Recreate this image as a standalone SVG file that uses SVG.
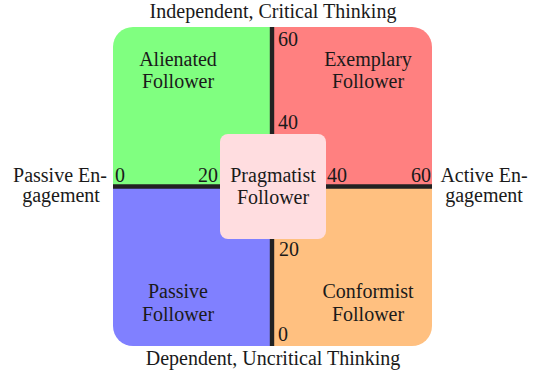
<svg xmlns="http://www.w3.org/2000/svg" width="536" height="376" viewBox="0 0 536 376">
  <style>
    text { font-family: "Liberation Serif", "Times New Roman", serif; font-size: 20px; fill: #1a1a1a; }
    .c { text-anchor: middle; }
    .e { text-anchor: end; }
    .axis { stroke: #222222; stroke-width: 4.4; fill: none; }
  </style>
  <defs>
    <clipPath id="board">
      <rect x="113" y="27" width="319" height="319" rx="20" ry="20"/>
    </clipPath>
  </defs>
  <rect width="536" height="376" fill="#ffffff"/>

  <g clip-path="url(#board)">
    <g id="alienated">
      <rect x="113" y="27" width="159" height="160" fill="#80ff80"/>
    </g>
    <g id="exemplary">
      <rect x="272" y="27" width="160" height="160" fill="#ff8080"/>
    </g>
    <g id="passive">
      <rect x="113" y="186.5" width="159" height="160" fill="#8080ff"/>
    </g>
    <g id="conformist">
      <rect x="272" y="186.5" width="160" height="160" fill="#ffc080"/>
    </g>
  </g>

  <g id="connectors">
    <line class="axis" x1="272" y1="27" x2="272" y2="346"/>
    <line class="axis" x1="113" y1="186.5" x2="432" y2="186.5"/>
  </g>

  <g id="ticks">
    <text x="278" y="46">60</text>
    <text x="278" y="129">40</text>
    <text x="115" y="182">0</text>
    <text class="e" x="218" y="182">20</text>
    <text x="327" y="182">40</text>
    <text class="e" x="431" y="182">60</text>
    <text x="279" y="256">20</text>
    <text x="278" y="341">0</text>
  </g>

  <g id="alienated-label">
    <text class="c" x="178" y="66">Alienated</text>
    <text class="c" x="178" y="88">Follower</text>
  </g>
  <g id="exemplary-label">
    <text class="c" x="368" y="66">Exemplary</text>
    <text class="c" x="368" y="88">Follower</text>
  </g>
  <g id="passive-label">
    <text class="c" x="178" y="298">Passive</text>
    <text class="c" x="178" y="321">Follower</text>
  </g>
  <g id="conformist-label">
    <text class="c" x="368" y="298">Conformist</text>
    <text class="c" x="368" y="321">Follower</text>
  </g>

  <g id="pragmatist">
    <rect x="220" y="134" width="106" height="105" rx="8" ry="8" fill="#ffdde0"/>
    <text class="c" x="273" y="182">Pragmatist</text>
    <text class="c" x="273" y="204">Follower</text>
  </g>

  <g id="axis-labels">
    <text class="c" x="273" y="18">Independent, Critical Thinking</text>
    <text class="c" x="273" y="365">Dependent, Uncritical Thinking</text>
    <text class="c" x="60" y="182">Passive En-</text>
    <text class="c" x="61" y="202">gagement</text>
    <text class="c" x="484" y="182">Active En-</text>
    <text class="c" x="484" y="202">gagement</text>
  </g>
</svg>
